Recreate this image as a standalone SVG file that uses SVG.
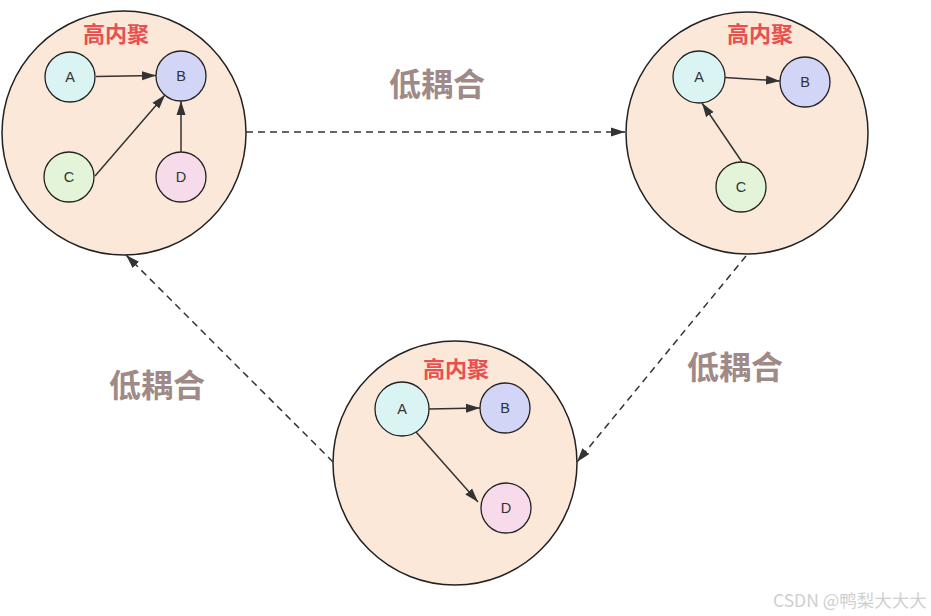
<svg xmlns="http://www.w3.org/2000/svg" width="931" height="616" viewBox="0 0 931 616">
<style>
.big{fill:#FBE8D8;stroke:#222;stroke-width:1.5}
.n{stroke:#222;stroke-width:1.3}
.a{fill:#DAF4F4}.b{fill:#D2D5F6}.c{fill:#E3F4D8}.d{fill:#F8DBEA}
.lt{font-family:"Liberation Sans",Arial,sans-serif;font-size:14.5px;fill:#333;text-anchor:middle;dominant-baseline:central}
.ti{font-family:"Noto Sans CJK SC",sans-serif;font-size:22px;font-weight:bold;fill:#E85050;text-anchor:middle}
.lo{font-family:"Noto Sans CJK SC",sans-serif;font-size:32px;font-weight:bold;fill:#A08A88;text-anchor:middle}
.e{stroke:#333;stroke-width:1.5;fill:none}
.dash{stroke:#333;stroke-width:1.5;fill:none;stroke-dasharray:7 5}
.wm{font-family:"Noto Sans CJK SC",sans-serif;font-size:17.5px;fill:#CFCFCF}
</style>
<defs>
<marker id="ar" viewBox="0 0 14 10" refX="14" refY="5" markerWidth="14" markerHeight="10" markerUnits="userSpaceOnUse" orient="auto">
<path d="M0,0.5L14,5L0,9.5z" fill="#333"/>
</marker>
</defs>
<g id="group-left">
<circle class="big" cx="124" cy="133" r="122"/>
<text class="ti" x="116" y="42">高内聚</text>
<g id="L-A"><circle class="n a" cx="70" cy="77" r="25"/><text class="lt" x="70" y="77">A</text></g>
<g id="L-B"><circle class="n b" cx="181" cy="76" r="25"/><text class="lt" x="181" y="76">B</text></g>
<g id="L-C"><circle class="n c" cx="69" cy="177" r="25"/><text class="lt" x="69" y="177">C</text></g>
<g id="L-D"><circle class="n d" cx="181" cy="177" r="25"/><text class="lt" x="181" y="177">D</text></g>
</g>
<g id="group-right">
<circle class="big" cx="747" cy="133" r="121"/>
<text class="ti" x="760" y="42">高内聚</text>
<g id="R-A"><circle class="n a" cx="699" cy="77" r="26"/><text class="lt" x="699" y="77">A</text></g>
<g id="R-B"><circle class="n b" cx="805" cy="82" r="25"/><text class="lt" x="805" y="82">B</text></g>
<g id="R-C"><circle class="n c" cx="741" cy="187" r="25"/><text class="lt" x="741" y="187">C</text></g>
</g>
<g id="group-bottom">
<circle class="big" cx="455" cy="463" r="122"/>
<text class="ti" x="456" y="377">高内聚</text>
<g id="B-A"><circle class="n a" cx="402" cy="409" r="27"/><text class="lt" x="402" y="409">A</text></g>
<g id="B-B"><circle class="n b" cx="505" cy="408" r="25"/><text class="lt" x="505" y="408">B</text></g>
<g id="B-D"><circle class="n d" cx="506" cy="508" r="25"/><text class="lt" x="506" y="508">D</text></g>
</g>
<g id="connectors">
<line class="e" x1="96" y1="76.5" x2="156" y2="75.5" marker-end="url(#ar)"/>
<line class="e" x1="95" y1="176" x2="165" y2="95" marker-end="url(#ar)"/>
<line class="e" x1="181" y1="152" x2="181" y2="101" marker-end="url(#ar)"/>
<line class="e" x1="725" y1="77.5" x2="780" y2="81" marker-end="url(#ar)"/>
<line class="e" x1="742" y1="162" x2="702" y2="103" marker-end="url(#ar)"/>
<line class="e" x1="429" y1="409" x2="480" y2="408" marker-end="url(#ar)"/>
<line class="e" x1="416" y1="432" x2="478" y2="502" marker-end="url(#ar)"/>
<line class="dash" x1="246" y1="132" x2="625" y2="132" marker-end="url(#ar)"/>
<line class="dash" x1="746" y1="256" x2="577" y2="462" marker-end="url(#ar)"/>
<line class="dash" x1="333" y1="462" x2="126" y2="255" marker-end="url(#ar)"/>
<text class="lo" x="437" y="96">低耦合</text>
<text class="lo" x="735" y="379">低耦合</text>
<text class="lo" x="157" y="397">低耦合</text>
</g>
<text class="wm" x="773" y="607">CSDN @鸭梨大大大</text>
</svg>
